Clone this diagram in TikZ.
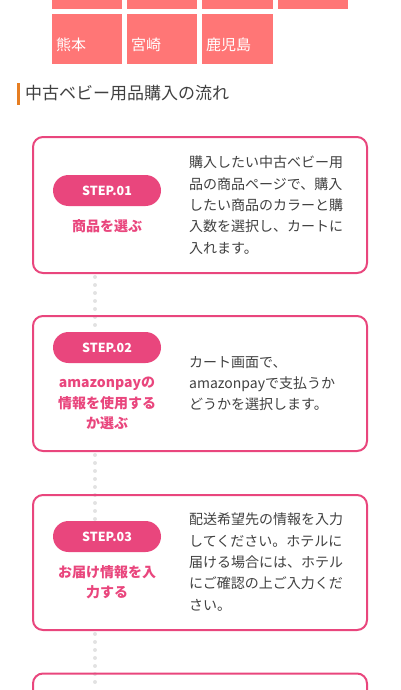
\documentclass[tikz,border=0pt]{standalone}
\usepackage{fontspec}
\usetikzlibrary{backgrounds}
\newfontfamily\jp{Noto Sans CJK JP}
\definecolor{pinkc}{HTML}{E9467D}
\definecolor{tilec}{HTML}{FF7676}
\definecolor{barc}{HTML}{E67E22}
\definecolor{txtc}{HTML}{404040}
\definecolor{dotc}{HTML}{E2E2E2}
\tikzset{
  tile/.style={fill=tilec, draw=none},
  tilelabel/.style={text=white, font=\jp\fontsize{15}{18}\selectfont, anchor=base west, inner sep=0},
  stepcard/.style={draw=pinkc, line width=2pt, rounded corners=10pt, minimum width=334pt, inner sep=0},
  pill/.style={fill=pinkc, draw=none, rounded corners=15.5pt, minimum width=108pt, minimum height=31pt, inner sep=0,
     text=white, font=\jp\bfseries\fontsize{12.5}{14}\selectfont},
  steptitle/.style={text=pinkc, font=\jp\bfseries\fontsize{14}{20.5}\selectfont, align=center, anchor=north, inner sep=0},
  stepdesc/.style={text=txtc, font=\jp\fontsize{14}{21.3}\selectfont, align=left, anchor=north west, inner sep=0},
  dotline/.style={draw=dotc, line width=4pt, line cap=round, dash pattern=on 0pt off 8pt},
}
\begin{document}
\begin{tikzpicture}[x=1pt,y=-1pt]
\useasboundingbox (0,0) rectangle (400,690);
% tiles
\fill[tile] (52,-10) rectangle (122,9);
\fill[tile] (127,-10) rectangle (197,9);
\fill[tile] (202,-10) rectangle (273,9);
\fill[tile] (278,-10) rectangle (348,9);
\fill[tile] (52,14) rectangle (122,64);
\fill[tile] (127,14) rectangle (197,64);
\fill[tile] (202,14) rectangle (273,64);
\node[tilelabel] (t1) at (56,51) {熊本};
\node[tilelabel] (t2) at (131,51) {宮崎};
\node[tilelabel] (t3) at (206,51) {鹿児島};
% heading
\fill[barc] (17,83) rectangle (20,105);
\node[anchor=west, inner sep=0, text=txtc, font=\jp\fontsize{17}{20}\selectfont] (head) at (25,93) {中古ベビー用品購入の流れ};
% pills
\node[pill] (p1) at (107,190.5) {STEP.01};
\node[pill] (p2) at (107,347.5) {STEP.02};
\node[pill] (p3) at (107,536.5) {STEP.03};
\node[pill] (p4) at (107,705.5) {};
% cards
\node[stepcard, minimum height=136pt] (c1) at (200,205) {};
\node[stepcard, minimum height=135pt] (c2) at (200,383.5) {};
\node[stepcard, minimum height=135pt] (c3) at (200,562.5) {};
\node[stepcard, minimum height=135pt] (c4) at (200,741) {};
% dotted connectors
\coordinate (d1) at (95,277);
\coordinate (d2) at (95,455);
\coordinate (d3) at (95,634);
\begin{pgfonlayer}{background}
\draw[dotline] (d1) -- (p2.north -| d1);
\draw[dotline] (d2) -- (p3.north -| d2);
\draw[dotline] (d3) -- (p4.north -| d3);
\end{pgfonlayer}
% titles
\node[steptitle] (s1) at (107,219) {商品を選ぶ};
\node[steptitle] (s2) at (107,377) {amazonpayの\\情報を使用する\\か選ぶ};
\node[steptitle] (s3) at (107,565) {お届け情報を入\\力する};
% descriptions
\node[stepdesc] (e1) at (189,156) {購入したい中古ベビー用\\品の商品ページで、購入\\したい商品のカラーと購\\入数を選択し、カートに\\入れます。};
\node[stepdesc] (e2) at (189,356) {カート画面で、\\amazonpayで支払うか\\どうかを選択します。};
\node[stepdesc] (e3) at (189,513) {配送希望先の情報を入力\\してください。ホテルに\\届ける場合には、ホテル\\にご確認の上ご入力くだ\\さい。};
\end{tikzpicture}
\end{document}
